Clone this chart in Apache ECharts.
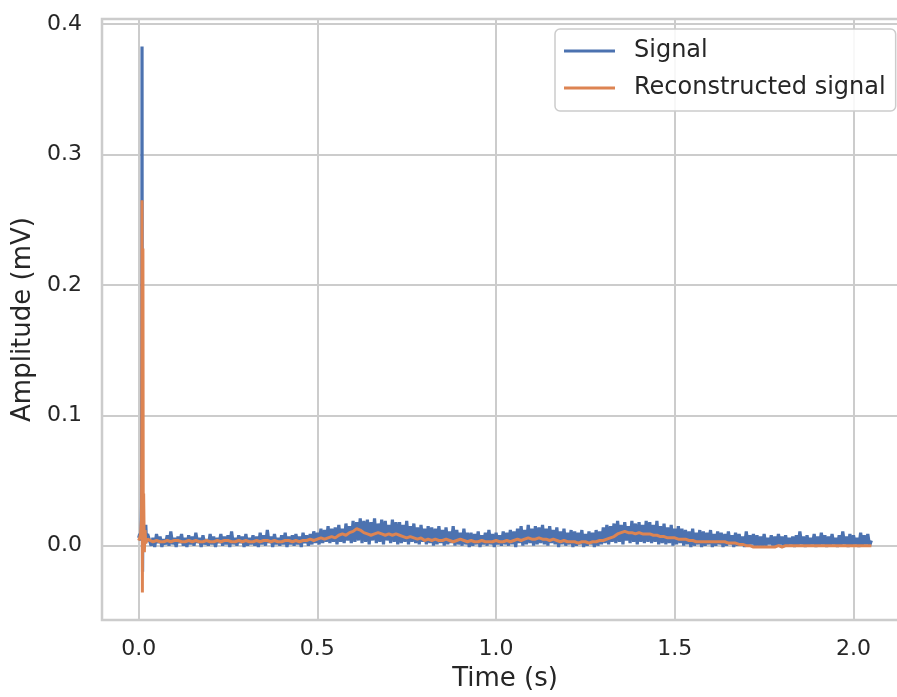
<!DOCTYPE html>
<html>
<head>
<meta charset="utf-8">
<script src="https://cdn.jsdelivr.net/npm/echarts@6/dist/echarts.min.js"></script>
<style>
html,body{margin:0;padding:0;background:#fff;overflow:hidden;}
#wrap{width:897px;height:697px;overflow:hidden;position:relative;}
#chart{position:absolute;left:0;top:0;width:909px;height:697px;}
</style>
</head>
<body>
<div id="wrap"><div id="chart"></div></div>
<script>
// ---- data ----
const seriesNames = ['Signal', 'Reconstructed signal'];
const xLabel = 'Time (s)';
const yLabel = 'Amplitude (mV)';

// stimulus artefact at the very start (fine time resolution)
const signalSpikeTime  = [0.000, 0.003, 0.005, 0.007, 0.008, 0.009, 0.0095, 0.010, 0.011, 0.012, 0.014, 0.016, 0.018, 0.020, 0.022, 0.025];
const signalSpikeValue = [0.006, 0.009, 0.004, 0.012, 0.030, 0.150, 0.383, 0.120, -0.020, 0.030, 0.004, 0.012, 0.002, 0.016, 0.003, 0.009];

const reconSpikeTime  = [0.000, 0.003, 0.006, 0.008, 0.009, 0.0095, 0.010, 0.0105, 0.011, 0.012, 0.013, 0.014, 0.016, 0.018, 0.020, 0.025];
const reconSpikeValue = [0.004, 0.006, 0.010, 0.020, 0.100, 0.265, 0.120, -0.036, 0.050, 0.228, 0.000, 0.040, -0.005, 0.012, 0.002, 0.005];

// noisy signal, sampled every 0.005 s from 0.030 s to 2.050 s
const signalStart = 0.030, signalStep = 0.005;
const signalValues = [
 0.008,0.000,0.006,-0.001,0.009,0.002,0.007,-0.001,0.005,0.001,0.008,0.000,0.011,0.001,0.006,-0.001,0.007,0.002,0.009,0.000,
 0.006,-0.001,0.008,0.001,0.007,0.000,0.010,0.002,0.006,-0.001,0.008,0.001,0.005,0.000,0.009,0.001,0.007,-0.001,0.006,0.002,
 0.009,0.000,0.007,0.001,0.008,-0.001,0.011,0.001,0.006,0.000,0.008,0.002,0.007,-0.001,0.009,0.000,0.006,0.001,0.008,0.000,
 0.007,-0.001,0.010,0.001,0.008,0.000,0.012,0.002,0.007,-0.001,0.009,0.001,0.006,0.000,0.008,0.001,0.010,-0.001,0.007,0.001,
 0.008,0.000,0.009,0.001,0.007,-0.001,0.010,0.002,0.008,0.000,0.009,0.001,0.011,0.002,0.010,0.001,0.013,0.002,0.012,0.003,
 0.015,0.002,0.013,0.003,0.014,0.001,0.016,0.003,0.013,0.002,0.017,0.004,0.015,0.002,0.019,0.003,0.018,0.004,0.021,0.002,
 0.019,0.003,0.020,0.001,0.018,0.004,0.021,0.002,0.017,0.003,0.020,0.001,0.019,0.004,0.016,0.002,0.020,0.003,0.018,0.001,
 0.018,0.002,0.016,0.003,0.019,0.001,0.015,0.003,0.017,0.002,0.014,0.001,0.016,0.003,0.013,0.001,0.015,0.002,0.014,0.000,
 0.013,0.001,0.015,0.002,0.012,0.000,0.014,0.001,0.011,0.002,0.015,0.000,0.012,0.001,0.010,0.000,0.013,0.001,0.010,-0.001,
 0.010,0.000,0.009,0.001,0.011,-0.001,0.008,0.001,0.010,0.000,0.012,0.001,0.009,-0.001,0.010,0.001,0.008,0.000,0.011,0.001,
 0.010,0.000,0.012,0.001,0.011,-0.001,0.013,0.002,0.015,0.000,0.012,0.001,0.016,0.002,0.013,0.000,0.015,0.001,0.014,0.002,
 0.016,0.001,0.013,0.000,0.015,0.002,0.012,0.001,0.014,-0.001,0.011,0.001,0.013,0.000,0.010,0.001,0.012,-0.001,0.011,0.000,
 0.010,0.001,0.012,-0.001,0.009,0.000,0.011,0.001,0.010,-0.001,0.012,0.000,0.011,0.001,0.014,0.002,0.016,0.001,0.015,0.003,
 0.017,0.002,0.019,0.003,0.016,0.001,0.018,0.004,0.015,0.002,0.019,0.003,0.017,0.001,0.018,0.003,0.016,0.002,0.019,0.003,
 0.018,0.002,0.016,0.003,0.019,0.001,0.015,0.002,0.017,0.001,0.014,0.002,0.016,0.000,0.013,0.001,0.015,0.002,0.013,0.000,
 0.012,0.001,0.011,-0.001,0.013,0.000,0.010,0.001,0.012,-0.001,0.011,0.000,0.010,0.001,0.012,-0.001,0.009,0.000,0.011,0.001,
 0.010,-0.001,0.009,0.000,0.011,0.001,0.008,-0.001,0.010,0.000,0.009,0.001,0.007,-0.001,0.011,0.000,0.008,0.001,0.009,-0.001,
 0.008,0.000,0.007,-0.001,0.009,0.000,0.006,0.001,0.008,-0.001,0.007,0.000,0.009,0.001,0.007,-0.001,0.008,0.000,0.006,0.001,
 0.007,-0.001,0.008,0.000,0.011,0.001,0.007,-0.001,0.008,0.000,0.006,0.001,0.009,-0.001,0.007,0.000,0.010,0.001,0.008,-0.001,
 0.007,0.000,0.009,0.001,0.006,-0.001,0.008,0.000,0.011,0.001,0.007,-0.001,0.009,0.000,0.008,0.001,0.006,-0.001,0.010,0.000,
 0.008,0.001,0.009,0.000,0.004
];

// reconstructed signal, sampled every 0.01 s from 0.03 s to 2.05 s
const reconStart = 0.03, reconStep = 0.01;
const reconValues = [
 0.004,0.003,0.004,0.003,0.003,0.004,0.003,0.004,0.004,0.003,
 0.003,0.004,0.003,0.004,0.003,0.003,0.004,0.003,0.003,0.004,
 0.003,0.004,0.004,0.003,0.003,0.004,0.003,0.004,0.003,0.003,
 0.004,0.003,0.004,0.004,0.003,0.004,0.003,0.003,0.004,0.004,
 0.003,0.004,0.003,0.004,0.004,0.005,0.004,0.005,0.006,0.005,
 0.006,0.007,0.006,0.008,0.009,0.008,0.010,0.011,0.013,0.012,
 0.010,0.009,0.008,0.009,0.010,0.009,0.008,0.009,0.008,0.009,
 0.008,0.007,0.006,0.007,0.006,0.005,0.006,0.004,0.005,0.004,
 0.005,0.004,0.004,0.005,0.004,0.003,0.004,0.005,0.004,0.003,
 0.004,0.003,0.003,0.004,0.003,0.003,0.003,0.004,0.003,0.003,
 0.004,0.003,0.004,0.005,0.004,0.005,0.006,0.005,0.005,0.006,
 0.005,0.005,0.004,0.005,0.004,0.003,0.004,0.003,0.003,0.003,
 0.002,0.003,0.003,0.002,0.003,0.003,0.004,0.004,0.005,0.006,
 0.007,0.009,0.010,0.011,0.010,0.010,0.009,0.010,0.009,0.009,
 0.009,0.008,0.008,0.007,0.007,0.006,0.006,0.006,0.005,0.005,
 0.005,0.004,0.004,0.003,0.003,0.003,0.003,0.003,0.003,0.003,
 0.003,0.003,0.002,0.002,0.002,0.001,0.001,0.000,0.000,-0.001,
 -0.001,-0.001,-0.001,-0.001,-0.001,-0.001,0.000,-0.001,0.000,0.000,
 0.000,0.000,0.000,0.000,0.000,0.000,0.000,0.000,0.000,0.000,
 0.000,0.000,0.000,0.000,0.000,0.000,0.000,0.000,0.000,0.000,
 0.000,0.000,0.000
];

// axis ranges (matplotlib 5% margins)
const xMin = -0.1025, xMax = 2.1525;
const yMin = -0.057, yMax = 0.404;

// ---- build series data ----
function pairs(times, values){ return times.map((t,i)=>[t, values[i]]); }
function sampled(start, step, values){ return values.map((v,i)=>[Math.round((start + i*step)*10000)/10000, v]); }

const signalData = pairs(signalSpikeTime, signalSpikeValue).concat(sampled(signalStart, signalStep, signalValues));
const reconData  = pairs(reconSpikeTime, reconSpikeValue).concat(sampled(reconStart, reconStep, reconValues));

const FONT = 'DejaVu Sans';
const TXT = '#262626';
const GRIDC = '#cccccc';

const chart = echarts.init(document.getElementById('chart'), null, {renderer:'canvas'});
chart.setOption({
  animation:false,
  backgroundColor:'#ffffff',
  grid:{left:102, right:1, top:19, bottom:74, show:true, borderColor:GRIDC, borderWidth:2.5, backgroundColor:'transparent'},
  legend:{
    orient:'vertical', left:555, top:29,
    padding:[8,10,9,9],
    backgroundColor:'rgba(255,255,255,0.85)', borderColor:GRIDC, borderWidth:1.5, borderRadius:5,
    icon:'rect', itemWidth:51, itemHeight:3, itemGap:9,
    textStyle:{fontFamily:FONT, fontSize:24, color:TXT, lineHeight:28, padding:[0,0,0,14]},
    data:seriesNames
  },
  xAxis:{
    type:'value', min:xMin, max:xMax,
    name:xLabel, nameLocation:'middle', nameGap:46,
    nameTextStyle:{fontFamily:FONT, fontSize:26, color:TXT},
    axisLine:{show:false}, axisTick:{show:false},
    axisLabel:{fontFamily:FONT, fontSize:22, color:TXT, margin:18, showMinLabel:false, showMaxLabel:false,
      formatter:v=>v.toFixed(1)},
    splitLine:{show:true, lineStyle:{color:GRIDC, width:2}}
  },
  yAxis:{
    type:'value', min:yMin, max:yMax,
    name:yLabel, nameLocation:'middle', nameGap:66, nameRotate:90,
    nameTextStyle:{fontFamily:FONT, fontSize:26, color:TXT},
    axisLine:{show:false}, axisTick:{show:false},
    axisLabel:{fontFamily:FONT, fontSize:22, color:TXT, margin:20, showMinLabel:false, showMaxLabel:false,
      formatter:v=>v.toFixed(1)},
    splitLine:{show:true, lineStyle:{color:GRIDC, width:2}}
  },
  series:[
    {name:seriesNames[0], type:'line', data:signalData, showSymbol:false, symbol:'none', sampling:null,
     color:'#4c72b0', lineStyle:{color:'#4c72b0', width:3.2}, z:2},
    {name:seriesNames[1], type:'line', data:reconData, showSymbol:false, symbol:'none', sampling:null,
     color:'#dd8452', lineStyle:{color:'#dd8452', width:3}, z:3}
  ]
});
</script>
</body>
</html>
